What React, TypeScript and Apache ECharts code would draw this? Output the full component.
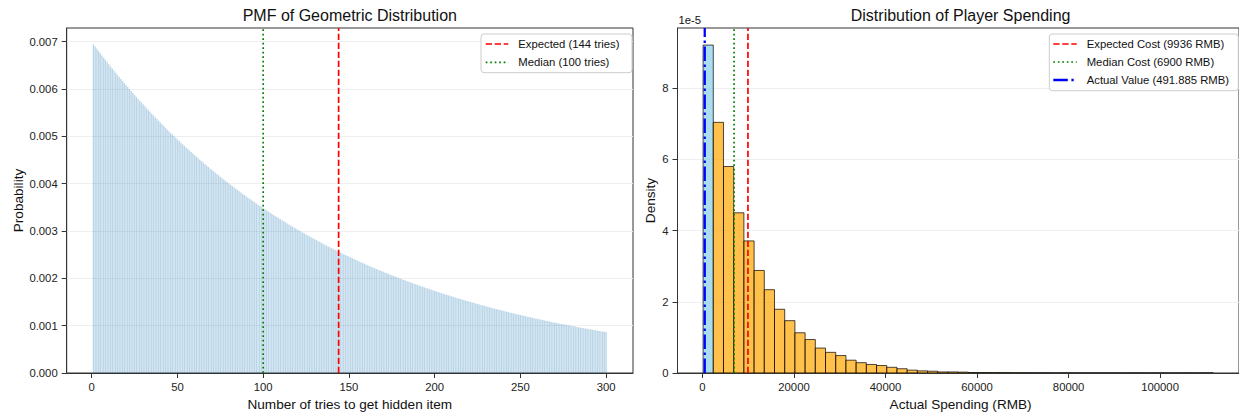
import { useEffect, useRef } from "react";
import * as echarts from "echarts";

const FONT = "'Liberation Sans', Arial, Helvetica, sans-serif";

// ---------- Left chart: PMF of geometric distribution ----------
const tries = Array.from({ length: 300 }, (_, i) => i + 1);
// probabilities in units of 1e-6
const pmfMicro = [
  6944, 6896, 6848, 6801, 6754, 6707, 6660, 6614, 6568, 6522,
  6477, 6432, 6387, 6343, 6299, 6255, 6212, 6168, 6126, 6083,
  6041, 5999, 5957, 5916, 5875, 5834, 5793, 5753, 5713, 5674,
  5634, 5595, 5556, 5518, 5479, 5441, 5403, 5366, 5329, 5292,
  5255, 5218, 5182, 5146, 5110, 5075, 5040, 5005, 4970, 4935,
  4901, 4867, 4833, 4800, 4766, 4733, 4701, 4668, 4635, 4603,
  4571, 4540, 4508, 4477, 4446, 4415, 4384, 4354, 4323, 4293,
  4264, 4234, 4205, 4175, 4146, 4118, 4089, 4061, 4032, 4004,
  3977, 3949, 3922, 3894, 3867, 3841, 3814, 3787, 3761, 3735,
  3709, 3683, 3658, 3632, 3607, 3582, 3557, 3532, 3508, 3483,
  3459, 3435, 3411, 3388, 3364, 3341, 3318, 3295, 3272, 3249,
  3226, 3204, 3182, 3160, 3138, 3116, 3094, 3073, 3052, 3030,
  3009, 2988, 2968, 2947, 2927, 2906, 2886, 2866, 2846, 2826,
  2807, 2787, 2768, 2749, 2730, 2711, 2692, 2673, 2655, 2636,
  2618, 2600, 2582, 2564, 2546, 2528, 2511, 2493, 2476, 2459,
  2442, 2425, 2408, 2391, 2375, 2358, 2342, 2325, 2309, 2293,
  2277, 2262, 2246, 2230, 2215, 2199, 2184, 2169, 2154, 2139,
  2124, 2109, 2095, 2080, 2066, 2051, 2037, 2023, 2009, 1995,
  1981, 1967, 1954, 1940, 1927, 1913, 1900, 1887, 1874, 1861,
  1848, 1835, 1822, 1810, 1797, 1784, 1772, 1760, 1748, 1735,
  1723, 1711, 1699, 1688, 1676, 1664, 1653, 1641, 1630, 1619,
  1607, 1596, 1585, 1574, 1563, 1552, 1542, 1531, 1520, 1510,
  1499, 1489, 1478, 1468, 1458, 1448, 1438, 1428, 1418, 1408,
  1398, 1389, 1379, 1369, 1360, 1350, 1341, 1332, 1322, 1313,
  1304, 1295, 1286, 1277, 1268, 1259, 1251, 1242, 1233, 1225,
  1216, 1208, 1200, 1191, 1183, 1175, 1167, 1158, 1150, 1142,
  1134, 1127, 1119, 1111, 1103, 1096, 1088, 1080, 1073, 1065,
  1058, 1051, 1043, 1036, 1029, 1022, 1015, 1008, 1001, 994,
  987, 980, 973, 966, 960, 953, 946, 940, 933, 927,
  920, 914, 908, 901, 895, 889, 883, 877, 871, 864,
];
const expectedTries = 144;
const medianTries = 100;
const leftXTicks = [0, 50, 100, 150, 200, 250, 300];
const leftYTicks = [0, 0.001, 0.002, 0.003, 0.004, 0.005, 0.006, 0.007];

// ---------- Right chart: histogram of player spending ----------
const binStart = 130;
const binWidth = 2230;
// density in units of 1e-5
const densityE5 = [
  9.21, 7.04, 5.8, 4.5, 3.71, 2.88, 2.34, 1.79, 1.47, 1.13,
  0.94, 0.7, 0.58, 0.49, 0.36, 0.29, 0.24, 0.21, 0.16, 0.12,
  0.08, 0.06, 0.05, 0.03, 0.03, 0.025, 0.012, 0.01, 0.008, 0.008,
  0.006, 0.005, 0.004, 0.004, 0, 0.004, 0.001, 0.001, 0.001, 0.001,
  0.001, 0, 0.001, 0, 0.001, 0, 0, 0.001, 0, 0.001,
];
const expectedCost = 9936;
const medianCost = 6900;
const actualValue = 491.885;
const rightXTicks = [0, 20000, 40000, 60000, 80000, 100000];
const rightYTicks = [0, 2, 4, 6, 8];

const leftLegend = ["Expected (144 tries)", "Median (100 tries)"];
const rightLegend = [
  "Expected Cost (9936 RMB)",
  "Median Cost (6900 RMB)",
  "Actual Value (491.885 RMB)",
];

const L_YMAX = 0.007289;
const R_YMAX = 9.69;

const RED_DASH = [6.3, 2.7];
const GREEN_DOT = [1.7, 2.8];
const BLUE_DASHDOT = [14.5, 3.6, 2.3, 3.6];

export default function App() {
  const ref = useRef<HTMLDivElement>(null);

  useEffect(() => {
    if (!ref.current) return;
    const chart = echarts.init(ref.current, undefined, { renderer: "svg" });

    const axisLineStyle = { color: "#333", width: 1 };
    const labelStyle = { fontSize: 11.3, color: "#222", fontFamily: FONT };
    const gridLine = { show: true, lineStyle: { color: "#efefef", width: 1 } };

    const vline = (
      name: string,
      x: number,
      ymax: number,
      color: string,
      width: number,
      dash: number[],
      axisIdx: number
    ) => ({
      type: "line",
      name,
      xAxisIndex: axisIdx,
      yAxisIndex: axisIdx,
      data: [
        [x, 0],
        [x, ymax],
      ],
      symbol: "none",
      silent: true,
      z: 5,
      lineStyle: { color, width, type: dash },
    });

    const textEl = (
      text: string,
      x: number,
      y: number,
      size: number,
      align: string = "left",
      rotation = 0
    ) => ({
      type: "text",
      x,
      y,
      rotation,
      silent: true,
      style: {
        text,
        fontSize: size,
        fontFamily: FONT,
        fill: "#111",
        align,
        verticalAlign: "middle",
      },
    });

    const legendLine = (x1: number, x2: number, y: number, color: string, width: number, dash: number[]) => ({
      type: "line",
      silent: true,
      shape: { x1, y1: y, x2, y2: y },
      style: { stroke: color, lineWidth: width, lineDash: dash },
    });

    const option: any = {
      animation: false,
      backgroundColor: "#fff",
      grid: [
        { left: 66.7, top: 28, width: 566.3, height: 345, show: true, borderColor: "#333", borderWidth: 1, backgroundColor: "transparent" },
        { left: 677.5, top: 28, width: 566.3, height: 345, show: true, borderColor: "#333", borderWidth: 1, backgroundColor: "transparent" },
      ],
      xAxis: [
        {
          type: "value",
          gridIndex: 0,
          min: -14.6,
          max: 315.7,
          axisLine: { show: true, onZero: false, lineStyle: axisLineStyle },
          axisTick: { show: true, length: 5, customValues: leftXTicks, lineStyle: axisLineStyle },
          axisLabel: { ...labelStyle, margin: 8, customValues: leftXTicks, formatter: (v: number) => String(v) },
          splitLine: { show: false },
        },
        {
          type: "value",
          gridIndex: 1,
          min: -5460,
          max: 117250,
          axisLine: { show: true, onZero: false, lineStyle: axisLineStyle },
          axisTick: { show: true, length: 5, customValues: rightXTicks, lineStyle: axisLineStyle },
          axisLabel: { ...labelStyle, margin: 8, customValues: rightXTicks, formatter: (v: number) => String(v) },
          splitLine: { show: false },
        },
      ],
      yAxis: [
        {
          type: "value",
          gridIndex: 0,
          min: 0,
          max: L_YMAX,
          interval: 0.001,
          axisLine: { show: true, onZero: false, lineStyle: axisLineStyle },
          axisTick: { show: true, length: 5, customValues: leftYTicks, lineStyle: axisLineStyle },
          axisLabel: { ...labelStyle, margin: 9, customValues: leftYTicks, formatter: (v: number) => v.toFixed(3) },
          splitLine: gridLine,
        },
        {
          type: "value",
          gridIndex: 1,
          min: 0,
          max: R_YMAX,
          interval: 2,
          axisLine: { show: true, onZero: false, lineStyle: axisLineStyle },
          axisTick: { show: true, length: 5, customValues: rightYTicks, lineStyle: axisLineStyle },
          axisLabel: { ...labelStyle, margin: 9, customValues: rightYTicks, formatter: (v: number) => String(v) },
          splitLine: gridLine,
        },
      ],
      series: [
        {
          type: "custom",
          xAxisIndex: 0,
          yAxisIndex: 0,
          clip: true,
          silent: true,
          data: tries.map((k, i) => [k, pmfMicro[i] / 1e6]),
          encode: { x: 0, y: 1 },
          renderItem: (_p: any, api: any) => {
            const k = api.value(0);
            const v = api.value(1);
            const a = api.coord([k - 0.4, v]);
            const b = api.coord([k + 0.4, 0]);
            return {
              type: "rect",
              shape: { x: a[0], y: a[1], width: b[0] - a[0], height: b[1] - a[1] },
              style: { fill: "rgba(31,119,180,0.3)" },
            };
          },
        },
        vline(leftLegend[1], medianTries, L_YMAX, "#008000", 1.7, GREEN_DOT, 0),
        vline(leftLegend[0], expectedTries, L_YMAX, "#ff0000", 1.7, RED_DASH, 0),
        {
          type: "custom",
          xAxisIndex: 1,
          yAxisIndex: 1,
          clip: true,
          silent: true,
          data: densityE5.map((h, i) => [binStart + i * binWidth, binStart + (i + 1) * binWidth, h, i]),
          encode: { x: [0, 1], y: 2 },
          renderItem: (_p: any, api: any) => {
            const x0 = api.value(0);
            const x1 = api.value(1);
            const h = api.value(2);
            const idx = api.value(3);
            const a = api.coord([x0, h]);
            const b = api.coord([x1, 0]);
            return {
              type: "rect",
              shape: { x: a[0], y: a[1], width: b[0] - a[0], height: Math.max(b[1] - a[1], 0.01) },
              style: {
                fill: idx === 0 ? "rgba(135,206,235,0.7)" : "rgba(255,165,0,0.7)",
                stroke: "rgba(0,0,0,0.7)",
                lineWidth: 1,
              },
            };
          },
        },
        vline(rightLegend[1], medianCost, R_YMAX, "#008000", 1.7, GREEN_DOT, 1),
        vline(rightLegend[0], expectedCost, R_YMAX, "#ff0000", 1.7, RED_DASH, 1),
        vline(rightLegend[2], actualValue, R_YMAX, "#0000ff", 2.3, BLUE_DASHDOT, 1),
      ],
      graphic: [
        textEl("PMF of Geometric Distribution", 349.8, 15.5, 16, "center"),
        textEl("Distribution of Player Spending", 960.6, 15.5, 16, "center"),
        textEl("Number of tries to get hidden item", 349.8, 404, 13.6, "center"),
        textEl("Actual Spending (RMB)", 960.6, 404, 13.6, "center"),
        textEl("Probability", 18, 200.5, 13.6, "center", Math.PI / 2),
        textEl("Density", 650, 200.5, 13.6, "center", Math.PI / 2),
        textEl("1e-5", 678.5, 19.5, 11.3, "left"),
        // left legend
        {
          type: "rect",
          silent: true,
          shape: { x: 481, y: 34, width: 151, height: 38.7, r: 3 },
          style: { fill: "rgba(255,255,255,0.8)", stroke: "#cccccc", lineWidth: 1 },
          z: 10,
        },
        { ...legendLine(485.7, 508.3, 44, "#ff0000", 1.7, RED_DASH), z: 11 },
        { ...legendLine(485.7, 508.3, 62.3, "#008000", 1.7, GREEN_DOT), z: 11 },
        { ...textEl(leftLegend[0], 518.3, 44, 11.3), z: 11 },
        { ...textEl(leftLegend[1], 518.3, 62.3, 11.3), z: 11 },
        // right legend
        {
          type: "rect",
          silent: true,
          shape: { x: 1049.3, y: 34, width: 189, height: 56.7, r: 3 },
          style: { fill: "rgba(255,255,255,0.8)", stroke: "#cccccc", lineWidth: 1 },
          z: 10,
        },
        { ...legendLine(1053.3, 1076.7, 44, "#ff0000", 1.7, RED_DASH), z: 11 },
        { ...legendLine(1053.3, 1076.7, 62, "#008000", 1.7, GREEN_DOT), z: 11 },
        { ...legendLine(1053.3, 1076.7, 80, "#0000ff", 2.3, BLUE_DASHDOT), z: 11 },
        { ...textEl(rightLegend[0], 1086.7, 44, 11.3), z: 11 },
        { ...textEl(rightLegend[1], 1086.7, 62, 11.3), z: 11 },
        { ...textEl(rightLegend[2], 1086.7, 80, 11.3), z: 11 },
      ],
    };

    chart.setOption(option);
    return () => chart.dispose();
  }, []);

  return (
    <div
      ref={ref}
      style={{ position: "fixed", left: 0, top: 0, width: 1239, height: 414, background: "#fff" }}
    />
  );
}
